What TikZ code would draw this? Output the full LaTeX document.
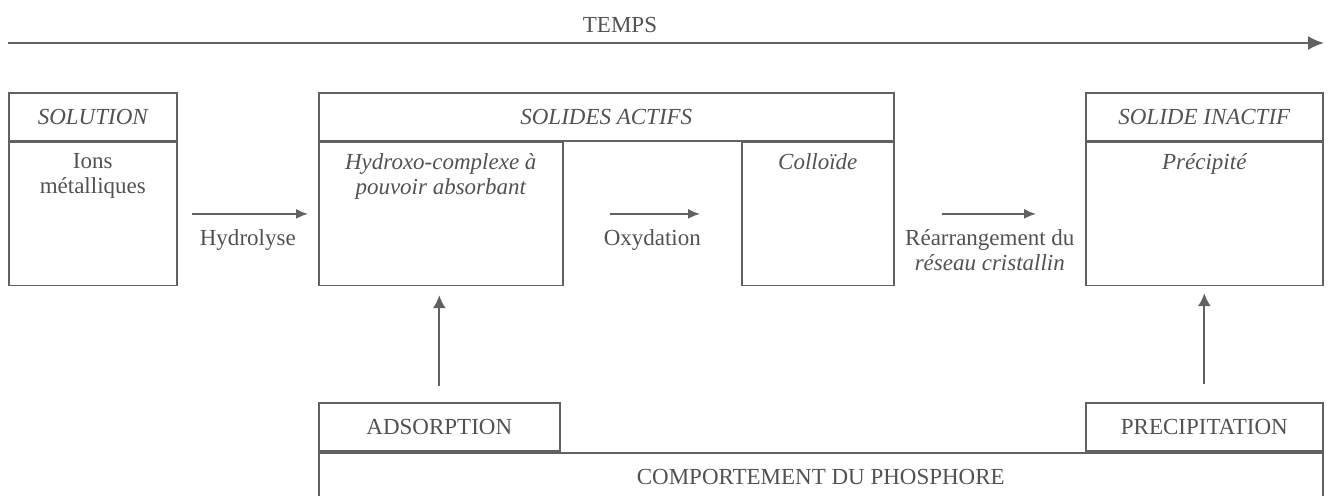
\documentclass[tikz,border=0pt]{standalone}
\usepackage{fontspec}
\setmainfont{Liberation Serif}
\usetikzlibrary{arrows.meta,positioning}
\definecolor{linegray}{gray}{0.38}
\definecolor{textgray}{gray}{0.32}

\begin{document}
\begin{tikzpicture}[
    x = 0.5pt, y = -0.5pt, % one unit = one pixel of the scan
    flow/.style = {-{Latex[length=6pt,width=5pt]}, draw=linegray, line width=0.9pt},
    boxed/.style = {draw=linegray, line width=0.8pt, inner sep=0pt, text=textgray},
    head/.style = {boxed, minimum height=24pt, font=\fontsize{11.5}{13}\selectfont\itshape},
    body/.style = {boxed, minimum height=71.5pt, anchor=north west},
    bodytext/.style = {align=center, text=textgray, font=\fontsize{11.5}{12.5}\selectfont},
    steplabel/.style = {below=4pt, align=center, text=textgray, font=\fontsize{11.5}{12.5}\selectfont},
    phase/.style = {boxed, minimum height=24pt, font=\fontsize{11.5}{13}\selectfont}
    ]

    \useasboundingbox (0,0) rectangle (1331,495);

    % time axis
    \coordinate (tstart) at (8,43);
    \coordinate (tend) at (1324,43);
    \draw[flow, -{Latex[length=8pt,width=7pt]}, line width=1.1pt] (tstart) -- (tend);
    \node[text=textgray, font=\fontsize{11.5}{13}\selectfont] (temps) at (620,25) {TEMPS};

    % solution
    \node[head, anchor=north west, minimum width=84pt] (solhead) at (8,92) {SOLUTION};
    \node[body, minimum width=84pt] (solbody) at (solhead.south west) {};
    \node[bodytext, below=2.5pt of solbody.north] (ions) {Ions\\métalliques};

    % solides actifs
    \node[head, anchor=north west, minimum width=287.5pt] (acthead) at (318,92) {SOLIDES ACTIFS};
    \node[body, minimum width=122pt] (hydbody) at (acthead.south west) {};
    \node[body, anchor=north east, minimum width=76pt] (colbody) at (acthead.south east) {};
    \node[bodytext, below=2.5pt of hydbody.north] (hydroxo) {\itshape Hydroxo-complexe à\\\itshape pouvoir absorbant};
    \node[bodytext, below=2.5pt of colbody.north] (colloide) {\itshape Colloïde};

    % solide inactif
    \node[head, anchor=north west, minimum width=118.5pt] (inahead) at (1085,92) {SOLIDE INACTIF};
    \node[body, minimum width=118.5pt] (inabody) at (inahead.south west) {};
    \node[bodytext, below=2.5pt of inabody.north] (precipite) {\itshape Précipité};

    % phosphore
    \node[boxed, anchor=north west, minimum width=502pt, minimum height=24pt,
          font=\fontsize{11.5}{13}\selectfont] (phos) at (318,452) {COMPORTEMENT DU PHOSPHORE};
    \node[phase, anchor=south west, minimum width=120.5pt] (adsorp) at (phos.north west) {ADSORPTION};
    \node[phase, anchor=south east, minimum width=118.5pt] (precip) at (phos.north east) {PRECIPITATION};

    % transformations
    \draw[flow, shorten <=7pt, shorten >=5pt] (solbody) -- node[steplabel]{Hydrolyse} (hydbody);
    \draw[flow, shorten <=23pt, shorten >=20.5pt] (hydbody) -- node[steplabel]{Oxydation} (colbody);
    \draw[flow, shorten <=23.5pt, shorten >=24.5pt] (colbody) -- node[steplabel]{Réarrangement du\\\itshape réseau cristallin} (inabody);

    \draw[flow, -{Latex[length=6.5pt,width=6.5pt]}, shorten <=8pt, shorten >=4.5pt] (adsorp.north) -- (adsorp.north |- hydbody.south);
    \draw[flow, -{Latex[length=6.5pt,width=6.5pt]}, shorten <=9pt, shorten >=3.5pt] (precip.north) -- (precip.north |- inabody.south);
\end{tikzpicture}
\end{document}
